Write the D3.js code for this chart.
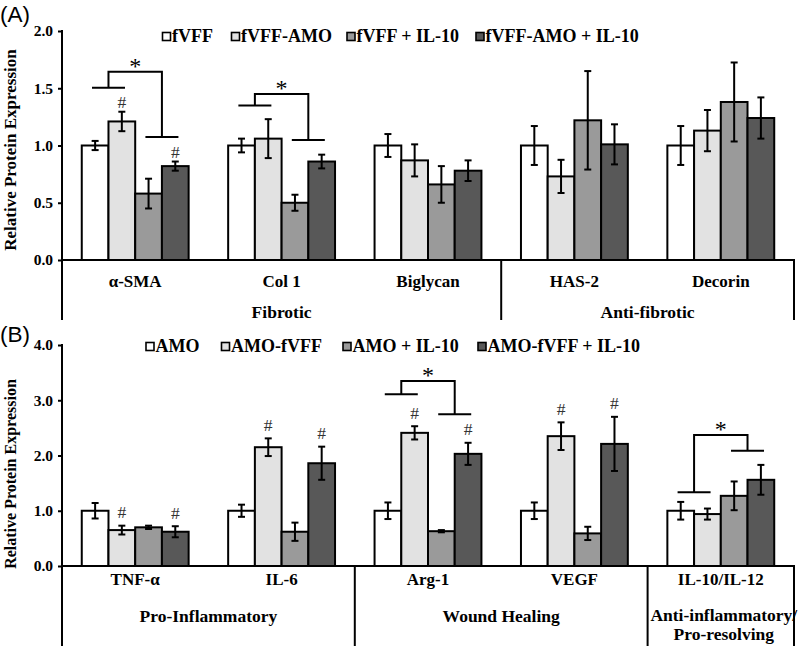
<!DOCTYPE html>
<html><head><meta charset="utf-8">
<script src="https://cdn.jsdelivr.net/npm/d3@7"></script>
<style>body{margin:0;background:#fff} svg{display:block}</style>
</head><body><svg id="c" width="800" height="646"></svg>
<script>
// ---------- Panel A data ----------
const categoriesA = ["α-SMA", "Col 1", "Biglycan", "HAS-2", "Decorin"];
const seriesA = ["fVFF", "fVFF-AMO", "fVFF + IL-10", "fVFF-AMO + IL-10"];
const meansA = [
  [1.00, 1.21, 0.58, 0.82],
  [1.00, 1.06, 0.50, 0.86],
  [1.00, 0.87, 0.66, 0.78],
  [1.00, 0.73, 1.22, 1.01],
  [1.00, 1.13, 1.38, 1.24]
];
const errorsA = [
  [0.04, 0.085, 0.13, 0.04],
  [0.06, 0.17, 0.07, 0.06],
  [0.10, 0.14, 0.16, 0.09],
  [0.17, 0.145, 0.43, 0.175],
  [0.17, 0.18, 0.345, 0.18]
];
const ticksA = [0, 0.5, 1.0, 1.5, 2.0];
const groupsA = [["Fibrotic"], ["Anti-fibrotic"]];
const groupSpansA = [[0, 2], [3, 4]];
const hashesA = [[0, 1], [0, 3]];
const bracketCatsA = [0, 1];
const bracketLevelsA = [[1.505, 1.645, 1.074], [1.35, 1.45, 1.048]];

// ---------- Panel B data ----------
const categoriesB = ["TNF-α", "IL-6", "Arg-1", "VEGF", "IL-10/IL-12"];
const seriesB = ["AMO", "AMO-fVFF", "AMO + IL-10", "AMO-fVFF + IL-10"];
const meansB = [
  [1.00, 0.65, 0.70, 0.62],
  [1.00, 2.15, 0.62, 1.86],
  [1.00, 2.41, 0.63, 2.03],
  [1.00, 2.35, 0.59, 2.21],
  [1.00, 0.94, 1.27, 1.56]
];
const errorsB = [
  [0.14, 0.08, 0.03, 0.10],
  [0.11, 0.16, 0.165, 0.30],
  [0.15, 0.12, 0.02, 0.20],
  [0.15, 0.25, 0.12, 0.49],
  [0.16, 0.10, 0.26, 0.27]
];
const ticksB = [0, 1.0, 2.0, 3.0, 4.0];
const groupsB = [["Pro-Inflammatory"], ["Wound Healing"], ["Anti-inflammatory/", "Pro-resolving"]];
const groupSpansB = [[0, 1], [2, 3], [4, 4]];
const hashesB = [[0, 1], [0, 3], [1, 1], [1, 3], [2, 1], [2, 3], [3, 1], [3, 3]];
const bracketCatsB = [2, 4];
const bracketLevelsB = [[3.11, 3.35, 2.745], [1.334, 2.37, 2.087]];

const yAxisTitle = "Relative Protein Expression";
const panelLabels = ["(A)", "(B)"];

// ---------- drawing ----------
const svg = d3.select("#c");
const SERIF = "'Liberation Serif','Times New Roman',serif";
const SANS = "'Liberation Sans',Arial,sans-serif";
const colors = ["#ffffff", "#e2e2e2", "#9a9a9a", "#585858"];

function drawPanel(cfg) {
  const g = svg.append("g");
  const x = d3.scaleBand().domain(cfg.categories).range([62, 794])
    .paddingInner(0.27).paddingOuter(0.135);
  const y = d3.scaleLinear().domain([0, cfg.max]).range([cfg.y0, cfg.yTop]);
  const xs = d3.scaleBand().domain(d3.range(cfg.series.length)).range([0, x.bandwidth()]);
  const gap = (x.step() - x.bandwidth()) / 2;

  // y axis
  const ax = g.append("g").attr("transform", "translate(62,0)")
    .call(d3.axisLeft(y).tickValues(cfg.ticks).tickFormat(d3.format(".1f"))
      .tickSize(4).tickPadding(5));
  ax.select(".domain").remove();
  ax.selectAll(".tick line").attr("stroke", "#000").attr("stroke-width", 2);
  ax.selectAll(".tick text").attr("font-family", SERIF).attr("font-weight", "bold")
    .attr("font-size", 15.5).attr("fill", "#000");
  g.append("line").attr("x1", 62).attr("x2", 62).attr("y1", cfg.yTop - 1).attr("y2", cfg.bottom)
    .attr("stroke", "#000").attr("stroke-width", 2);
  // x baseline
  g.append("line").attr("x1", 62).attr("x2", 795).attr("y1", y(0)).attr("y2", y(0))
    .attr("stroke", "#000").attr("stroke-width", 2);
  // right edge
  g.append("line").attr("x1", 794).attr("x2", 794).attr("y1", y(0)).attr("y2", cfg.bottom)
    .attr("stroke", "#000").attr("stroke-width", 2);

  // y title
  g.append("text").attr("transform", `translate(${cfg.titleX},${cfg.titleY}) rotate(-90)`)
    .attr("text-anchor", "middle").attr("font-family", SERIF).attr("font-weight", "bold")
    .attr("font-size", cfg.titleSize).text(yAxisTitle);

  // bars
  cfg.categories.forEach((c, i) => {
    cfg.series.forEach((s, j) => {
      const v = cfg.means[i][j], e = cfg.errors[i][j];
      const bx = x(c) + xs(j), cx = bx + xs.bandwidth() / 2;
      g.append("rect").attr("x", bx).attr("y", y(v)).attr("width", xs.bandwidth())
        .attr("height", y(0) - y(v)).attr("fill", colors[j])
        .attr("stroke", "#000").attr("stroke-width", 2);
      const eg = g.append("g").attr("stroke", "#000").attr("stroke-width", 2);
      eg.append("line").attr("x1", cx).attr("x2", cx).attr("y1", y(v - e)).attr("y2", y(v + e));
      eg.append("line").attr("x1", cx - 3.5).attr("x2", cx + 3.5).attr("y1", y(v - e)).attr("y2", y(v - e));
      eg.append("line").attr("x1", cx - 3.5).attr("x2", cx + 3.5).attr("y1", y(v + e)).attr("y2", y(v + e));
    });
  });

  // hashes
  cfg.hashes.forEach(([i, j]) => {
    const v = cfg.means[i][j], e = cfg.errors[i][j];
    const cx = x(cfg.categories[i]) + xs(j) + xs.bandwidth() / 2;
    g.append("text").attr("x", cx).attr("y", y(v + e) - cfg.hashOffset)
      .attr("text-anchor", "middle").attr("font-family", SERIF).attr("font-size", 17.5)
      .attr("fill", "#333").text("#");
  });

  // brackets
  cfg.bracketCats.forEach((ci, k) => {
    const [l, t, r] = cfg.bracketLevels[k];
    const x0 = x(cfg.categories[ci]);
    const lc = x0 + xs.bandwidth(), rc = x0 + 3 * xs.bandwidth(), hw = 16.5;
    const p = `M${lc - hw},${y(l)}H${lc + hw}M${lc},${y(l)}V${y(t)}H${rc}V${y(r)}M${rc - hw},${y(r)}H${rc + hw}`;
    g.append("path").attr("d", p).attr("fill", "none").attr("stroke", "#000").attr("stroke-width", 2);
    g.append("text").attr("x", (lc + rc) / 2).attr("y", y(t) + 2).attr("text-anchor", "middle")
      .attr("font-family", SERIF).attr("font-size", 24).text("*");
  });

  // category labels
  cfg.categories.forEach(c => {
    g.append("text").attr("x", x(c) + x.bandwidth() / 2).attr("y", cfg.catY)
      .attr("text-anchor", "middle").attr("font-family", SERIF).attr("font-weight", "bold")
      .attr("font-size", 17).text(c);
  });

  // groups
  cfg.groupSpans.forEach(([a, b], k) => {
    const left = a === 0 ? 62 : x(cfg.categories[a]) - gap;
    const right = b === cfg.categories.length - 1 ? 794 : x(cfg.categories[b]) + x.bandwidth() + gap;
    if (a > 0) {
      g.append("line").attr("x1", left).attr("x2", left).attr("y1", y(0)).attr("y2", cfg.bottom)
        .attr("stroke", "#000").attr("stroke-width", 2);
    }
    const lines = cfg.groups[k];
    lines.forEach((ln, li) => {
      g.append("text").attr("x", (left + right) / 2 + (lines.length > 1 ? 3 : 0))
        .attr("y", (lines.length > 1 ? cfg.groupY - 1 : cfg.groupY) + li * 19)
        .attr("text-anchor", "middle").attr("font-family", SERIF).attr("font-weight", "bold")
        .attr("font-size", 17.5).text(ln);
    });
  });

  // legend
  const lg = g.append("g");
  cfg.series.forEach((s, j) => {
    const lx = cfg.legendXs[j];
    lg.append("rect").attr("x", lx).attr("y", cfg.legendY - 4).attr("width", 8).attr("height", 8)
      .attr("fill", colors[j]).attr("stroke", "#000").attr("stroke-width", 1.6);
    lg.append("text").attr("x", lx + 9.5).attr("y", cfg.legendY + 5.5)
      .attr("font-family", SERIF).attr("font-weight", "bold").attr("font-size", 18).text(s);
  });

  // panel label
  svg.append("text").attr("x", 0).attr("y", cfg.labelY).attr("font-family", SANS)
    .attr("font-size", 22.5).text(cfg.label);
}

drawPanel({
  categories: categoriesA, series: seriesA, means: meansA, errors: errorsA, ticks: ticksA,
  max: 2.0, y0: 260, yTop: 31, bottom: 320, groups: groupsA, groupSpans: groupSpansA,
  hashes: hashesA, hashOffset: 3.5, bracketCats: bracketCatsA, bracketLevels: bracketLevelsA,
  catY: 287, groupY: 318, legendXs: [162.5, 231.5, 347, 476], legendY: 36.5,
  titleX: 16, titleY: 150, titleSize: 17, label: panelLabels[0], labelY: 22
});
drawPanel({
  categories: categoriesB, series: seriesB, means: meansB, errors: errorsB, ticks: ticksB,
  max: 4.0, y0: 566, yTop: 345, bottom: 646, groups: groupsB, groupSpans: groupSpansB,
  hashes: hashesB, hashOffset: 7.5, bracketCats: bracketCatsB, bracketLevels: bracketLevelsB,
  catY: 585, groupY: 622, legendXs: [146, 221.5, 343, 478], legendY: 346.5,
  titleX: 16, titleY: 474, titleSize: 16, label: panelLabels[1], labelY: 342
});
</script></body></html>
